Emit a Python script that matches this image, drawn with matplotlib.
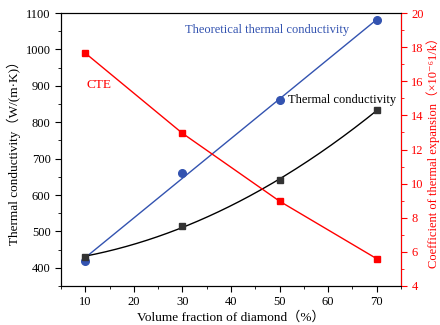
import numpy as np
import matplotlib.pyplot as plt
from matplotlib.ticker import MultipleLocator

# --- Data ---
vol_frac = [10, 30, 50, 70]
theory_k = [420, 660, 860, 1080]
measured_k = [431, 514, 641, 833]
cte = [17.65, 12.95, 8.97, 5.6]

FONT = ['Liberation Serif', 'DejaVu Serif', 'Noto Sans CJK SC']
BLUE = '#3353b0'
RED = '#ff0000'

fig = plt.figure(figsize=(4.4, 3.25), dpi=100)
ax = fig.add_axes([61 / 440, 39 / 325, 340 / 440, 273 / 325])
ax2 = ax.twinx()

xs = np.linspace(10, 70, 200)

# theoretical: linear fit line + points
p1 = np.polyfit(vol_frac, theory_k, 1)
ax.plot(xs, np.polyval(p1, xs), color=BLUE, lw=1.0)
ax.plot(vol_frac, theory_k, 'o', color=BLUE, ms=5.5)

# measured: smooth curve through points
p2 = np.polyfit(vol_frac, measured_k, 2)
ax.plot(xs, np.polyval(p2, xs), color='black', lw=1.0)
ax.plot(vol_frac, measured_k, 's', color='#333333', ms=4.5)

# CTE on right axis
ax2.plot(vol_frac, cte, '-s', color=RED, lw=1.0, ms=5)

ax.set_xlim(5, 75)
ax.set_ylim(350, 1100)
ax2.set_ylim(4, 20)

ax.xaxis.set_major_locator(MultipleLocator(10))
ax.xaxis.set_minor_locator(MultipleLocator(5))
ax.yaxis.set_major_locator(MultipleLocator(100))
ax.yaxis.set_minor_locator(MultipleLocator(50))
ax2.yaxis.set_major_locator(MultipleLocator(2))
ax2.yaxis.set_minor_locator(MultipleLocator(1))

ax.tick_params(which='both', direction='out', labelsize=9, top=False)
ax.tick_params(which='major', length=4)
ax.tick_params(which='minor', length=2)
ax2.tick_params(which='both', direction='out', labelsize=9, colors=RED)
ax2.tick_params(which='major', length=4)
ax2.tick_params(which='minor', length=2)
ax2.spines['right'].set_color(RED)

for lab in ax.get_xticklabels() + ax.get_yticklabels() + ax2.get_yticklabels():
    lab.set_fontfamily(FONT)

ax.set_xlabel('Volume fraction of diamond（%）', family=FONT, fontsize=9.5, labelpad=2)
ax.set_ylabel('Thermal conductivity（W/(m·K)）', family=FONT, fontsize=9.5, labelpad=3)
ax2.set_ylabel('Coefficient of thermal expansion（×10⁻⁶1/k）', family=FONT,
               fontsize=9, color=RED, labelpad=2)

ax.text(30.5, 1045, 'Theoretical thermal conductivity', color=BLUE, family=FONT, fontsize=9)
ax2.text(10.3, 15.6, 'CTE', color=RED, family=FONT, fontsize=9.5)
ax.text(51.7, 852, 'Thermal conductivity', color='black', family=FONT, fontsize=9)

fig.savefig('out.png', dpi=100)
